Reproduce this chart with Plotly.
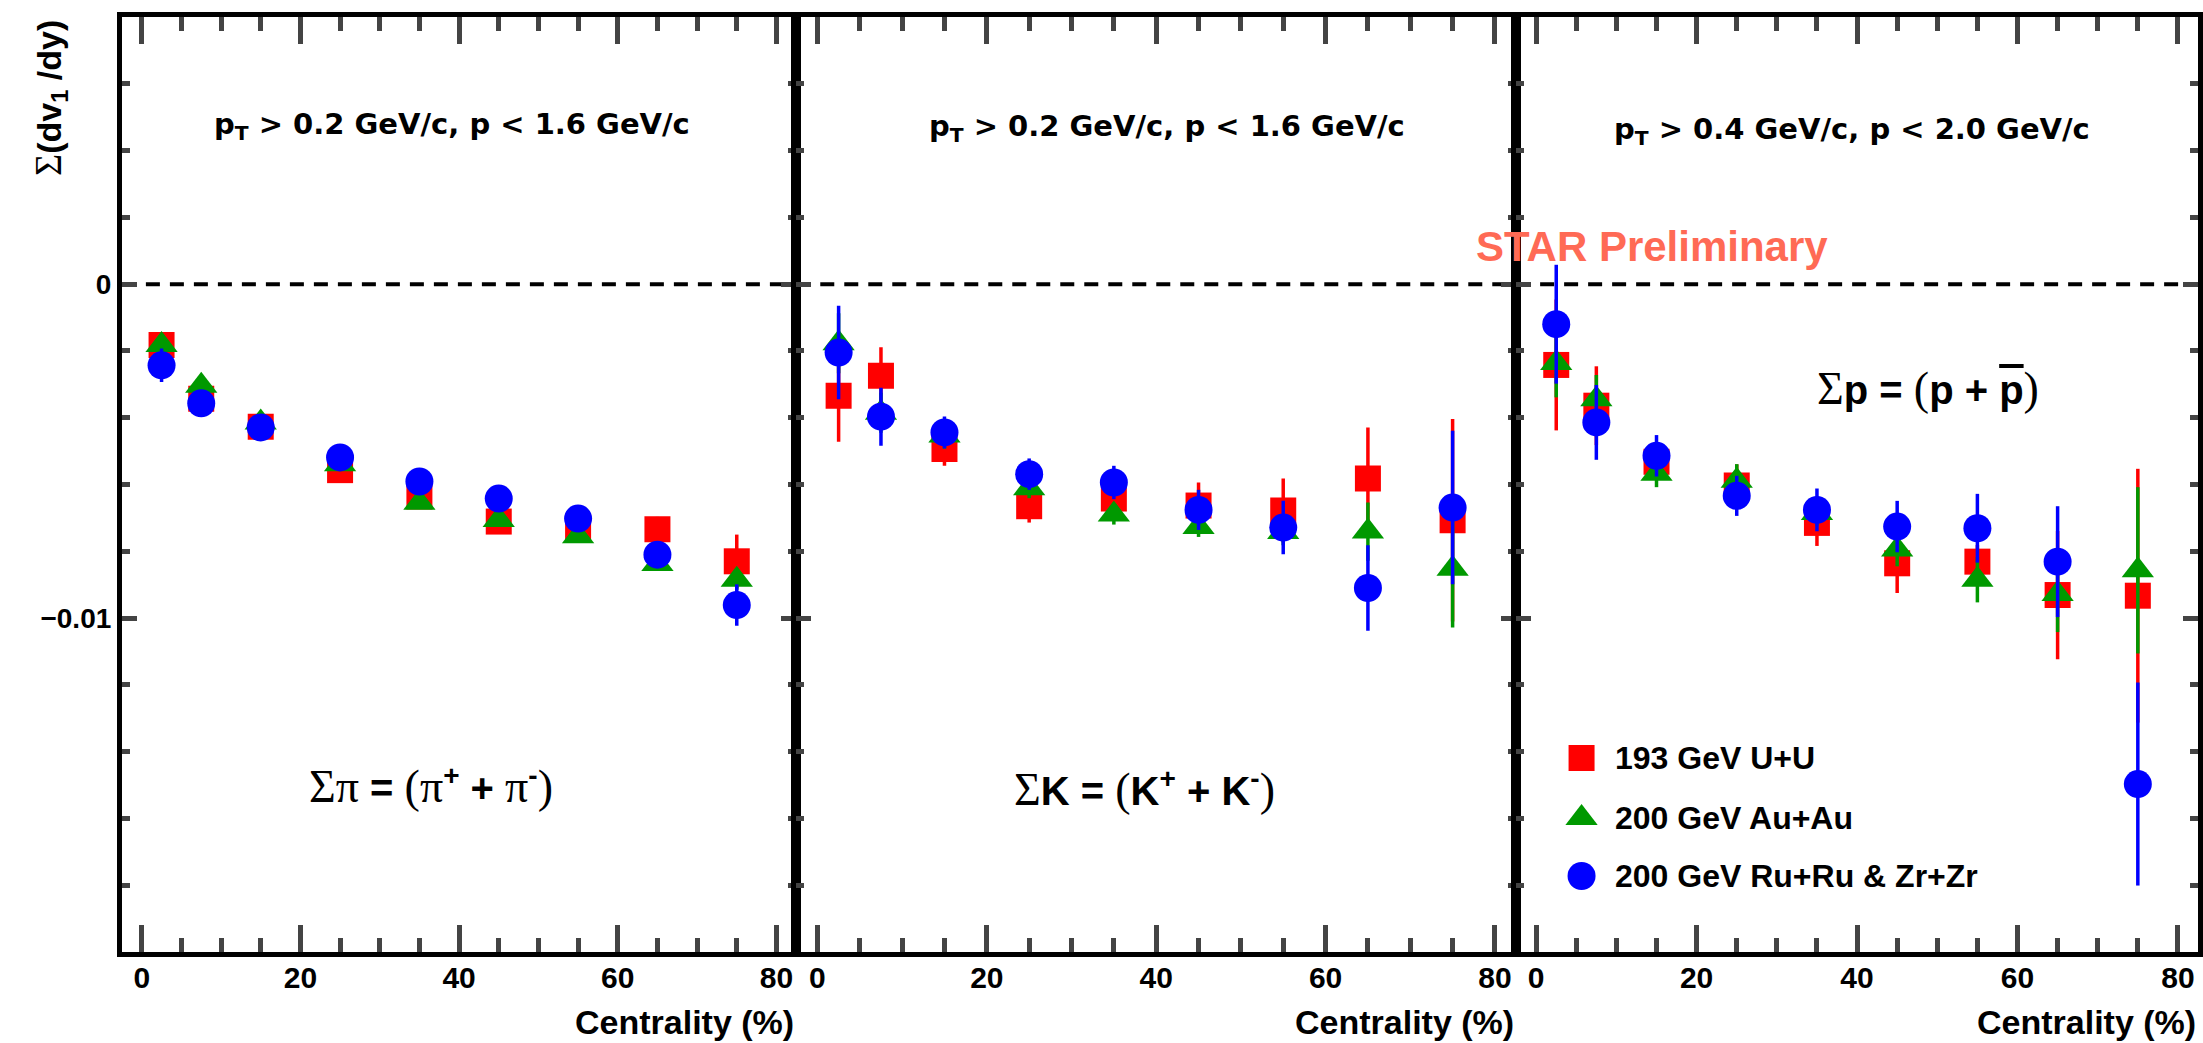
import plotly.graph_objects as go

W, H = 2203, 1043

# ---------------------------------------------------------------- data
centrality = [2.5, 7.5, 15, 25, 35, 45, 55, 65, 75]
x_tick_vals = [0, 20, 40, 60, 80]
y_tick_vals = [-0.01, 0]
y_tick_text = ["\u22120.01", "0"]

systems = ["193 GeV U+U", "200 GeV Au+Au", "200 GeV Ru+Ru & Zr+Zr"]

# Sum of pi+ and pi-
pion_uu = [-0.00182, -0.00343, -0.00427, -0.00557, -0.00636, -0.00711, -0.00726, -0.00734, -0.00830]
pion_uu_err = [0.00015, 0.00015, 0.00015, 0.00020, 0.00020, 0.00020, 0.00025, 0.00037, 0.00080]
pion_auau = [-0.00182, -0.00304, -0.00414, -0.00539, -0.00655, -0.00706, -0.00755, -0.00838, -0.00885]
pion_auau_err = [0.00010, 0.00010, 0.00010, 0.00010, 0.00012, 0.00012, 0.00015, 0.00020, 0.00030]
pion_iso = [-0.00243, -0.00357, -0.00429, -0.00519, -0.00591, -0.00642, -0.00702, -0.00810, -0.00961]
pion_iso_err = [0.00050, 0.00020, 0.00020, 0.00020, 0.00020, 0.00020, 0.00020, 0.00030, 0.00062]

# Sum of K+ and K-
kaon_uu = [-0.00334, -0.00274, -0.00494, -0.00665, -0.00642, -0.00663, -0.00678, -0.00582, -0.00707]
kaon_uu_err = [0.00138, 0.00085, 0.00050, 0.00049, 0.00040, 0.00069, 0.00096, 0.00153, 0.00303]
kaon_auau = [-0.00177, -0.00385, -0.00453, -0.00611, -0.00690, -0.00727, -0.00742, -0.00741, -0.00852]
kaon_auau_err = [0.00090, 0.00060, 0.00040, 0.00030, 0.00030, 0.00030, 0.00040, 0.00087, 0.00176]
kaon_iso = [-0.00205, -0.00397, -0.00444, -0.00569, -0.00594, -0.00676, -0.00729, -0.00910, -0.00669]
kaon_iso_err = [0.00140, 0.00087, 0.00048, 0.00047, 0.00050, 0.00060, 0.00080, 0.00128, 0.00230]

# Sum of p and anti-p
proton_uu = [-0.00242, -0.00364, -0.00532, -0.00603, -0.00715, -0.00836, -0.00831, -0.00931, -0.00933]
proton_uu_err = [0.00196, 0.00118, 0.00040, 0.00063, 0.00069, 0.00089, 0.00050, 0.00192, 0.00380]
proton_auau = [-0.00236, -0.00345, -0.00568, -0.00589, -0.00685, -0.00795, -0.00885, -0.00928, -0.00857]
proton_auau_err = [0.00103, 0.00073, 0.00040, 0.00050, 0.00040, 0.00050, 0.00068, 0.00114, 0.00249]
proton_iso = [-0.00120, -0.00414, -0.00514, -0.00634, -0.00676, -0.00726, -0.00731, -0.00831, -0.01497]
proton_iso_err = [0.00178, 0.00112, 0.00062, 0.00060, 0.00064, 0.00077, 0.00103, 0.00166, 0.00304]

# ---------------------------------------------------------------- styles
SANS = "Liberation Sans"
SERIF = "Liberation Serif"
WIDE = "DejaVu Sans"
STAR_COLOR = "#FF6A55"

colors = ["#FF0000", "#009900", "#0000FF"]
symbols = ["square", "triangle-up", "circle"]
sizes = [26, 28, 28]


def greek(s, size=None):
    extra = f";font-size:{size}px" if size else ""
    return f"<span style=\"font-family:'{SERIF}';font-weight:normal{extra}\">{s}</span>"


def px(x):
    return x / W


def py(y):
    return 1 - y / H


G = 46  # size of the symbol-font glyphs inside the species labels
panels = [
    dict(series=[(pion_uu, pion_uu_err), (pion_auau, pion_auau_err), (pion_iso, pion_iso_err)],
         header="p<sub>T</sub> &gt; 0.2 GeV/c, p &lt; 1.6 GeV/c",
         species=(f"{greek('Σπ', G)} = {greek('(π', G)}<sup>+</sup> + "
                  f"{greek('π', G)}<sup>-</sup>{greek(')', G)}"),
         dom=(122, 797), header_xy=(452, 126), species_xy=(431, 786)),
    dict(series=[(kaon_uu, kaon_uu_err), (kaon_auau, kaon_auau_err), (kaon_iso, kaon_iso_err)],
         header="p<sub>T</sub> &gt; 0.2 GeV/c, p &lt; 1.6 GeV/c",
         species=f"{greek('Σ', G)}K = {greek('(', G)}K<sup>+</sup> + K<sup>-</sup>{greek(')', G)}",
         dom=(797, 1517.5), header_xy=(1168, 128), species_xy=(1146, 789)),
    dict(series=[(proton_uu, proton_uu_err), (proton_auau, proton_auau_err), (proton_iso, proton_iso_err)],
         header="p<sub>T</sub> &gt; 0.4 GeV/c, p &lt; 2.0 GeV/c",
         species=(f"{greek('Σ', G)}p = {greek('(', G)}p + "
                  f"<span style=\"text-decoration:overline\">p</span>{greek(')', G)}"),
         dom=(1517.5, 2200), header_xy=(1854, 131), species_xy=(1930, 388)),
]

Y_TOP, Y_BOT = 17, 952

fig = go.Figure()
annotations = []
shapes = []

for i, p in enumerate(panels):
    n = "" if i == 0 else str(i + 1)
    xa, ya = "x" + n, "y" + n
    for (vals, errs), name, c, sym, sz in zip(p["series"], systems, colors, symbols, sizes):
        fig.add_trace(go.Scatter(
            x=centrality, y=vals, name=name, mode="markers",
            xaxis=xa, yaxis=ya, showlegend=False,
            marker=dict(symbol=sym, size=sz, color=c, line=dict(width=0)),
            error_y=dict(type="data", array=errs, color=c, thickness=3.5, width=0),
        ))

    frame = dict(showline=True, linewidth=5, linecolor="black", mirror="allticks",
                 ticks="inside", showgrid=False, zeroline=False)
    fig.layout["xaxis" + n] = dict(
        frame, domain=[px(p["dom"][0]), px(p["dom"][1])], range=[-2.5, 82.5], anchor=ya,
        tickmode="array", tickvals=x_tick_vals, ticklen=27, tickwidth=5,
        minor=dict(dtick=5, tick0=0, ticks="inside", ticklen=14, tickwidth=5, showgrid=False),
        tickfont=dict(family=SANS, size=30, color="black", weight="bold"),
        ticklabelstandoff=-5,
    )
    ycfg = dict(
        frame, domain=[py(Y_BOT), py(Y_TOP)], range=[-0.02, 0.008], anchor=xa,
        tickmode="array", tickvals=y_tick_vals, ticktext=y_tick_text, ticklen=15, tickwidth=5,
        minor=dict(dtick=0.002, tick0=0, ticks="inside", ticklen=8, tickwidth=5, showgrid=False),
        tickfont=dict(family=SANS, size=28, color="black", weight="bold"),
        ticklabelstandoff=0,
    )
    if i > 0:
        ycfg.update(matches="y", showticklabels=False)
    fig.layout["yaxis" + n] = ycfg

    # dashed zero reference
    shapes.append(dict(type="line", xref=f"{xa} domain", x0=0, x1=1, yref=ya, y0=0, y1=0,
                       layer="below", line=dict(color="black", width=4, dash="14px,10px")))

    annotations.append(dict(text=p["header"], xref="paper", yref="paper",
                            x=px(p["header_xy"][0]), y=py(p["header_xy"][1]),
                            xanchor="center", yanchor="middle", showarrow=False,
                            font=dict(family=WIDE, size=29, color="black", weight="bold")))
    annotations.append(dict(text=p["species"], xref="paper", yref="paper",
                            x=px(p["species_xy"][0]), y=py(p["species_xy"][1]),
                            xanchor="center", yanchor="middle", showarrow=False,
                            font=dict(family=SANS, size=40, color="black", weight="bold")))
    annotations.append(dict(text="Centrality (%)", xref=f"{xa} domain", yref="paper",
                            x=1, y=py(1022), xanchor="right", yanchor="middle", showarrow=False,
                            font=dict(family=SANS, size=34, color="black", weight="bold")))

# y-axis title
annotations.append(dict(text=f"{greek('Σ', 38)}(dv<sub>1</sub> /dy)", xref="paper", yref="paper",
                        x=px(50), y=py(98), xanchor="center", yanchor="middle", textangle=-90,
                        showarrow=False,
                        font=dict(family=SANS, size=34, color="black", weight="bold")))

# preliminary tag
annotations.append(dict(text="STAR Preliminary", xref="paper", yref="paper",
                        x=px(1654), y=py(246), xanchor="center", yanchor="middle",
                        showarrow=False,
                        font=dict(family=SANS, size=42, color=STAR_COLOR, weight="bold")))

# legend drawn on a pixel-scaled overlay axis so the keys keep the data marker size
legend_key_x = 1583
legend_text_x = 1614
legend_rows = [758, 818, 876]
for name, c, sym, sz, ry in zip(systems, colors, symbols, sizes, legend_rows):
    fig.add_trace(go.Scatter(x=[legend_key_x], y=[ry], xaxis="x4", yaxis="y4", mode="markers",
                             marker=dict(symbol=sym, size=sz, color=c, line=dict(width=0)),
                             showlegend=False, hoverinfo="skip"))
    annotations.append(dict(text=name, xref="x4", yref="y4", x=legend_text_x, y=ry,
                            xanchor="left", yanchor="middle", showarrow=False,
                            font=dict(family=SANS, size=32, color="black", weight="bold")))

fig.update_layout(
    xaxis4=dict(domain=[0, 1], range=[0, W], visible=False, anchor="y4", fixedrange=True),
    yaxis4=dict(domain=[0, 1], range=[H, 0], visible=False, anchor="x4", fixedrange=True),
    width=W, height=H, autosize=False,
    margin=dict(l=0, r=0, t=0, b=0, pad=0),
    paper_bgcolor="white", plot_bgcolor="rgba(0,0,0,0)",
    showlegend=False,
    annotations=annotations, shapes=shapes,
)

fig.write_html("out.html")
